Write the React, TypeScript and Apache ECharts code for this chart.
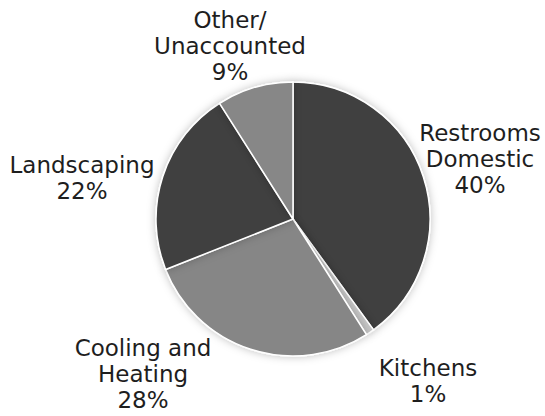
import React, { useEffect, useRef } from "react";
import * as echarts from "echarts";

const categories = ["Restrooms\nDomestic", "Kitchens", "Cooling and\nHeating", "Landscaping", "Other/\nUnaccounted"];
const values = [40, 1, 28, 22, 9];
const colors = ["#404040", "#c6c6c6", "#868686", "#404040", "#878787"];
const labelCenters: [number, number][] = [
  [480, 159],
  [428, 381],
  [143, 374],
  [82, 178],
  [230, 46],
];

export default function App() {
  const ref = useRef<HTMLDivElement>(null);
  useEffect(() => {
    if (!ref.current) return;
    const chart = echarts.init(ref.current, null, { renderer: "svg" });
    chart.setOption({
      animation: false,
      backgroundColor: "#ffffff",
      series: [
        {
          type: "pie",
          center: [293, 219],
          radius: 137,
          startAngle: 90,
          clockwise: true,
          avoidLabelOverlap: false,
          data: categories.map((name, i) => ({
            name,
            value: values[i],
            itemStyle: { color: colors[i] },
          })),
          itemStyle: {
            borderColor: "#ffffff",
            borderWidth: 1.5,
            shadowBlur: 8,
            shadowColor: "rgba(0,0,0,0.25)",
          },
          label: {
            show: true,
            formatter: (p: any) => `${p.name}\n${p.value}%`,
            fontFamily: "DejaVu Sans",
            fontSize: 23,
            lineHeight: 26,
            color: "#1e1e1e",
            align: "center",
          },
          labelLine: { show: false },
          labelLayout: (params: any) => {
            const c = labelCenters[params.dataIndex];
            return { x: c[0], y: c[1], align: "center", verticalAlign: "middle" };
          },
          emphasis: { disabled: true },
        },
      ],
    });
    return () => chart.dispose();
  }, []);
  return <div ref={ref} style={{ width: 545, height: 416, position: "absolute", left: 0, top: 0 }} />;
}
